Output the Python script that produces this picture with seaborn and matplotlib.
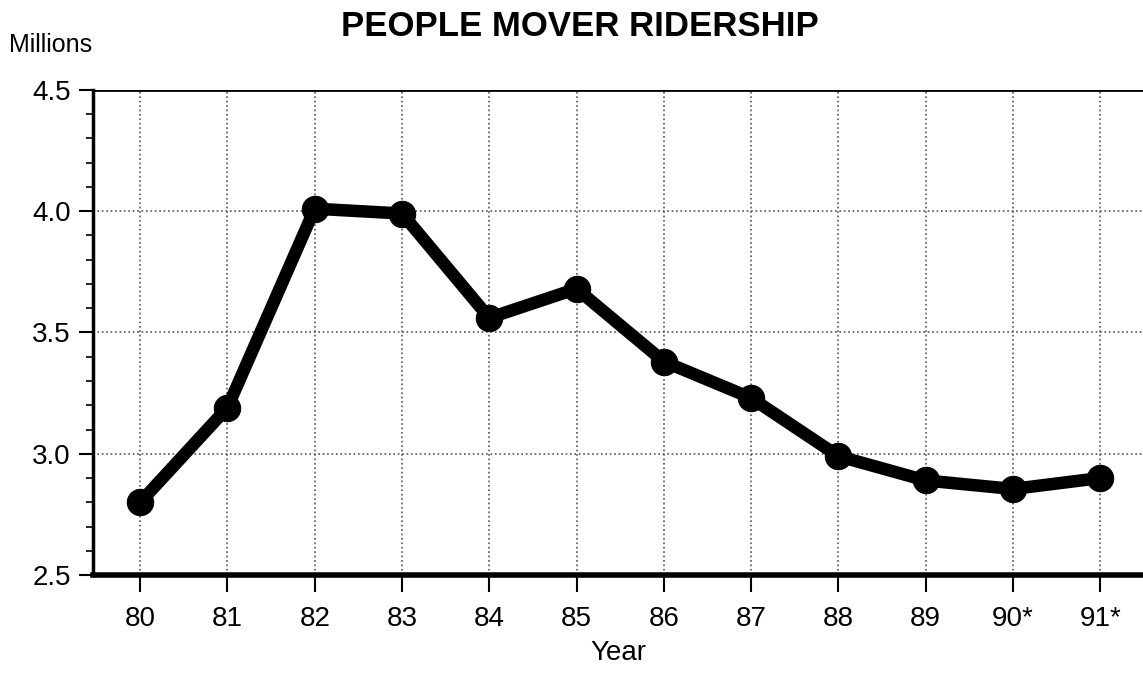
import seaborn as sns
import matplotlib.pyplot as plt
import pandas as pd
from matplotlib.ticker import MultipleLocator

years = ['80', '81', '82', '83', '84', '85', '86', '87', '88', '89', '90*', '91*']
riders = [2.80, 3.19, 4.01, 3.99, 3.56, 3.68, 3.38, 3.23, 2.99, 2.89, 2.855, 2.90]

sns.set_style("white", {'xtick.bottom': True, 'ytick.left': True,
                        'text.color': 'black', 'axes.labelcolor': 'black',
                        'xtick.color': 'black', 'ytick.color': 'black'})
plt.rcParams['font.family'] = ['Liberation Sans', 'DejaVu Sans']

df = pd.DataFrame({'Year': years, 'Riders': riders})
df['pos'] = range(len(df))

fig = plt.figure(figsize=(11.43, 6.75), dpi=100)
ax = fig.add_axes([0.0814, 0.148, 0.9186, 0.719])

sns.lineplot(data=df, x='pos', y='Riders', ax=ax, color='black', linewidth=9,
             marker='o', markersize=19, markeredgecolor='black', zorder=3)

ax.set_xlim(-0.54, len(years) - 0.51)
ax.set_ylim(2.5, 4.5)
ax.set_xticks(df['pos'])
ax.set_xticklabels(years)
ax.yaxis.set_major_locator(MultipleLocator(0.5))
ax.yaxis.set_minor_locator(MultipleLocator(0.1))
ax.yaxis.set_major_formatter(plt.FuncFormatter(lambda v, p: f'{v:.1f}'))

# dotted grid at major ticks only
ax.grid(True, which='major', linestyle=':', color='#555555', linewidth=1.2)
ax.tick_params(axis='both', which='major', labelsize=20, direction='out',
               length=10, width=1.5, colors='black', pad=6)
ax.tick_params(axis='y', which='minor', direction='out', length=5, width=1.2,
               color='black', left=True)
ax.tick_params(axis='x', which='major', length=12, pad=10)

for s in ['top', 'right']:
    ax.spines[s].set_visible(False)
ax.spines['left'].set_linewidth(2.5)
ax.spines['left'].set_color('black')
ax.spines['bottom'].set_linewidth(4)
ax.spines['bottom'].set_color('black')
ax.axhline(4.5, color='black', linewidth=2, zorder=2)

ax.set_xlabel('Year', fontsize=20, labelpad=6, color='black')
ax.set_ylabel('')
fig.text(0.008, 0.933, 'Millions', fontsize=18, ha='left', va='center', color='black')
fig.text(0.507, 0.961, 'PEOPLE MOVER RIDERSHIP', fontsize=25, fontweight='bold',
         ha='center', va='center', color='black')

plt.savefig('out.png', dpi=100)
plt.close()
